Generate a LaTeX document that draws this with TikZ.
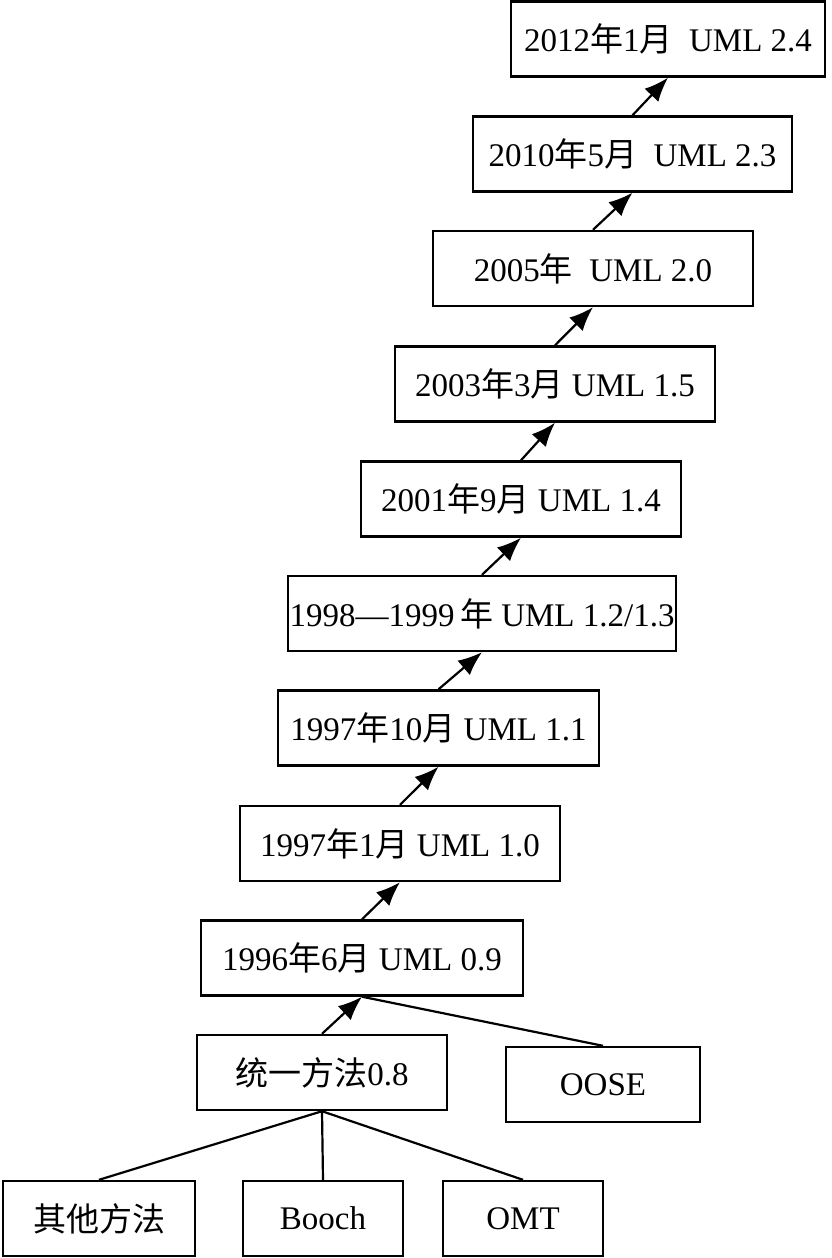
\documentclass[tikz,border=0pt]{standalone}
\usepackage{fontspec}
\setmainfont{Liberation Serif}
\newfontfamily\cjk{Noto Sans CJK SC}
\newcommand{\zh}[1]{{\cjk #1}}
\usetikzlibrary{arrows.meta}

\tikzset{
  verbox/.style={draw, line width=2.4pt, inner sep=0pt, minimum height=75pt,
    font=\fontsize{33}{38}\selectfont},
  uparrow/.style={line width=2.2pt, -{Latex[length=24pt,width=19pt]}},
  joinline/.style={line width=2.2pt}
}

\begin{document}
\begin{tikzpicture}[x=1pt,y=1pt,yscale=-1]
\useasboundingbox (0,0) rectangle (831,1258);

% Version boxes
\node [verbox, minimum width=314pt] (v24) at (668,39) {2012\zh{年}1\zh{月}\ \ UML 2.4};
\node [verbox, minimum width=319pt] (v23) at (632.5,154) {2010\zh{年}5\zh{月}\ \ UML 2.3};
\node [verbox, minimum width=320pt] (v20) at (593,268.5) {2005\zh{年}\ \ UML 2.0};
\node [verbox, minimum width=320pt] (v15) at (555,384) {2003\zh{年}3\zh{月} UML 1.5};
\node [verbox, minimum width=320pt] (v14) at (521,499) {2001\zh{年}9\zh{月} UML 1.4};
\node [verbox, minimum width=388pt] (v13) at (482,613.5) {1998---1999\,\zh{年} UML 1.2/1.3};
\node [verbox, minimum width=321pt] (v11) at (438.5,728) {1997\zh{年}10\zh{月} UML 1.1};
\node [verbox, minimum width=320pt] (v10) at (400,843.5) {1997\zh{年}1\zh{月} UML 1.0};
\node [verbox, minimum width=322pt] (v09) at (362,958) {1996\zh{年}6\zh{月} UML 0.9};

% Sources
\node [verbox, minimum width=250pt] (um) at (322,1072.5) {\zh{统一方法}0.8};
\node [verbox, minimum width=194pt] (oose) at (603,1084.5) {OOSE};
\node [verbox, minimum width=192pt] (other) at (99,1218.5) {\zh{其他方法}};
\node [verbox, minimum width=160pt] (booch) at (323,1218.5) {Booch};
\node [verbox, minimum width=160pt] (omt) at (523,1218.5) {OMT};

% Arrows
\draw [uparrow] (um.north) -- (v09.south);
\draw [uparrow] (v09.north) -- (v10.south);
\draw [uparrow] (v10.north) -- (v11.south);
\draw [uparrow] (v11.north) -- (v13.south);
\draw [uparrow] (v13.north) -- (v14.south);
\draw [uparrow] (v14.north) -- (v15.south);
\draw [uparrow] (v15.north) -- (v20.south);
\draw [uparrow] (v20.north) -- (v23.south);
\draw [uparrow] (v23.north) -- (v24.south);

% Plain lines
\draw [joinline] (v09.south) -- (oose.north);
\draw [joinline] (um.south) -- (other.north);
\draw [joinline] (um.south) -- (booch.north);
\draw [joinline] (um.south) -- (omt.north);

\end{tikzpicture}
\end{document}
